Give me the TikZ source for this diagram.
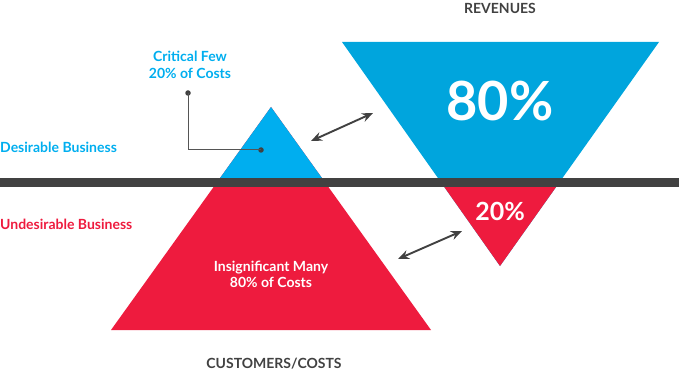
\documentclass[tikz,border=0pt]{standalone}
\usepackage{fontspec}
\setmainfont{Lato}
\usetikzlibrary{arrows.meta}
\definecolor{cyanA}{HTML}{00AEEF}
\definecolor{cyanB}{HTML}{00A5DD}
\definecolor{redA}{HTML}{EE1B3E}
\definecolor{barC}{HTML}{414141}
\definecolor{leadC}{HTML}{555555}
\tikzset{
  lbl/.style={font=\bfseries\fontsize{14}{16.5}\selectfont, inner sep=0pt},
  dblarrow/.style={draw=barC, line width=1.9pt, {Stealth[length=11pt,width=9pt]}-{Stealth[length=11pt,width=9pt]}},
  leader/.style={draw=leadC, line width=1pt},
  dot/.style={circle, fill=barC, inner sep=0pt, minimum size=5.5pt}
}
\begin{document}
\begin{tikzpicture}[x=1pt,y=-1pt]
\useasboundingbox (0,0) rectangle (679,374);
% big pyramid (red), top part blue
\fill[redA] (271,107) -- (431,330) -- (111,330) -- cycle;
\begin{scope}
  \clip (0,0) rectangle (679,182);
  \fill[cyanA] (271,107) -- (431,330) -- (111,330) -- cycle;
\end{scope}
% inverted triangle (blue), bottom part red
\fill[cyanB] (342,42) -- (659,42) -- (500,266) -- cycle;
\begin{scope}
  \clip (0,182) rectangle (679,374);
  \fill[redA] (342,42) -- (659,42) -- (500,266) -- cycle;
\end{scope}
% bar
\fill[barC] (0,178) rectangle (679,187);
% leader
\node[dot] (d1) at (188,93) {};
\node[dot] (d2) at (261,150) {};
\draw[leader] (d1.center) |- (d2.center);
% arrows
\coordinate (a1) at (311,141);
\coordinate (a2) at (373,113);
\coordinate (b1) at (398,259);
\coordinate (b2) at (462,231);
\draw[dblarrow] (a1) -- (a2);
\draw[dblarrow] (b1) -- (b2);
% texts
\node[lbl, text=barC] (rev) at (500,8) {REVENUES};
\node[lbl, text=barC] (cust) at (274,364) {CUSTOMERS/COSTS};
\node[lbl, text=cyanA, align=center] (crit) at (190,65) {Critical Few\\20\% of Costs};
\node[lbl, text=cyanA, anchor=west] (des) at (0,147) {Desirable Business};
\node[lbl, text=redA, anchor=west] (und) at (0,224) {Undesirable Business};
\node[lbl, text=white, align=center] (ins) at (271,274.5) {Insignificant Many\\80\% of Costs};
\node[font=\bfseries\fontsize{54}{54}\selectfont, text=white, inner sep=0pt] (p80) at (500,101) {80\%};
\node[font=\bfseries\fontsize{25}{25}\selectfont, text=white, inner sep=0pt] (p20) at (500,211) {20\%};
\end{tikzpicture}
\end{document}
